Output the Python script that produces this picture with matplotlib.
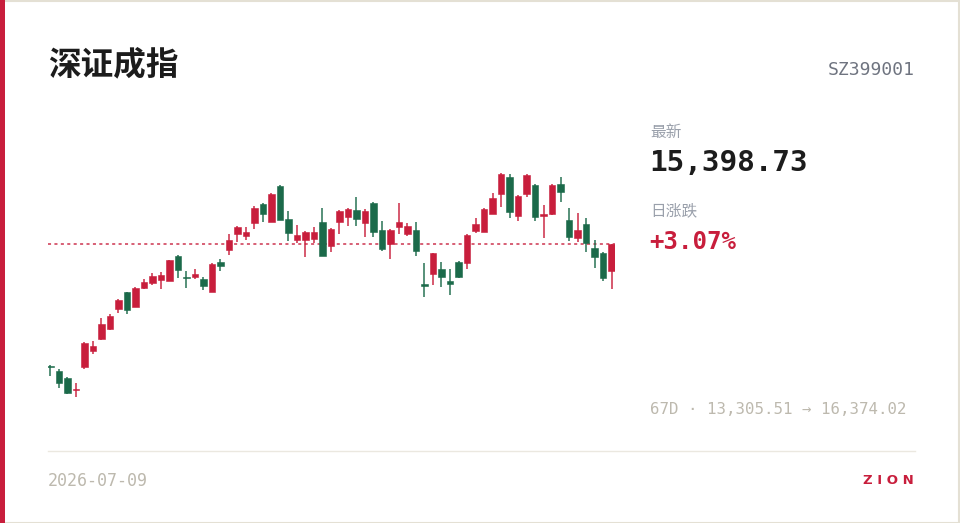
import matplotlib
matplotlib.use("Agg")
import matplotlib.pyplot as plt
from matplotlib.patches import Rectangle

# 深证成指 日K (67 天)
opens = [13731, 13658, 13562, 13393, 13718, 13933, 14094, 14231, 14514, 14739,
         14542, 14799, 14863, 14908, 14895, 15238, 14950, 14954, 14926, 14744,
         15160, 15320, 15536, 15517, 15691, 15952, 15705, 16204, 15746, 15458,
         15462, 15476, 15709, 15375, 15705, 15778, 15870, 15687, 15966, 15599,
         15407, 15640, 15536, 15595, 14849, 14995, 15060, 14891, 15160, 15146,
         15581, 15568, 15819, 16090, 16327, 15783, 16090, 16213, 15783, 15811,
         16227, 15732, 15481, 15678, 15344, 15275, 15036]
highs = [13741, 13686, 13572, 13490, 14053, 14066, 14382, 14446, 14642, 14748,
         14808, 14918, 15000, 15014, 15187, 15248, 15032, 15055, 14945, 15138,
         15193, 15536, 15650, 15636, 15929, 15962, 16103, 16217, 15860, 15660,
         15581, 15632, 15901, 15623, 15870, 15901, 16044, 15884, 15980, 15719,
         15609, 15962, 15687, 15709, 15138, 15280, 15152, 15060, 15174, 15536,
         15764, 15893, 16107, 16374.02, 16360, 16076, 16360, 16223, 15938, 16227,
         16327, 15893, 15825, 15756, 15458, 15289, 15405]
lows = [13594, 13421, 13343, 13305.51, 13690, 13892, 14088, 14225, 14459, 14441,
        14533, 14781, 14844, 14781, 14890, 14932, 14794, 14918, 14771, 14740,
        15036, 15248, 15434, 15458, 15613, 15705, 15700, 15732, 15440, 15413,
        15220, 15421, 15234, 15297, 15540, 15654, 15654, 15495, 15495, 15307,
        15201, 15540, 15513, 15238, 14675, 14840, 14816, 14702, 14940, 15055,
        15550, 15564, 15815, 15907, 15756, 15719, 16052, 15719, 15489, 15806,
        15984, 15444, 15434, 15289, 15077, 14895, 14785]
closes = [13713, 13490, 13352, 13411, 14043, 13998, 14308, 14410, 14638, 14496,
          14794, 14885, 14967, 14977, 15179, 15046, 14936, 14995, 14826, 15124,
          15105, 15454, 15636, 15568, 15897, 15819, 16090, 15737, 15558, 15531,
          15568, 15568, 15238, 15609, 15856, 15880, 15742, 15856, 15572, 15334,
          15595, 15705, 15654, 15311, 14822, 15275, 14945, 14849, 14950, 15531,
          15678, 15880, 16035, 16370, 15847, 16058, 16351, 15778, 15811, 16213,
          16113, 15503, 15595, 15413, 15228, 14940.02, 15398.73]

name = "深证成指"
code = "SZ399001"
last_price = "15,398.73"
day_change = "+3.07%"
date_str = "2026-07-09"

UP = "#c81e3c"      # 红涨
DOWN = "#1b6a4a"    # 绿跌
MONO = "DejaVu Sans Mono"
CJK = ["Noto Sans CJK SC", "DejaVu Sans"]

W, H = 960, 523
fig = plt.figure(figsize=(W / 100, H / 100), dpi=100)
fig.patch.set_facecolor("white")

# 卡片边框 + 左侧红条
fig.add_artist(Rectangle((0.5 / W, 0.5 / H), (W - 1.5) / W, (H - 1.5) / H, transform=fig.transFigure,
                         facecolor="white", edgecolor="#e4e0d4", linewidth=1.5, zorder=0))
fig.add_artist(Rectangle((0, 0), 5 / W, 1, transform=fig.transFigure, facecolor=UP, edgecolor="none", zorder=1))

# K线区域
ax = fig.add_axes([48 / W, (H - 420) / H, 567 / W, 270 / H])
ax.set_axis_off()
n = len(closes)
lo, hi = min(lows), max(highs)
pad = (hi - lo) * 0.1043
ax.set_xlim(-0.29, n - 1 + 0.41)
ax.set_ylim(lo - pad, hi + pad)
min_body = (hi - lo) / 223 * 1.4

xs = list(range(n))
cols = [UP if c >= o else DOWN for o, c in zip(opens, closes)]
ax.vlines(xs, lows, highs, colors=cols, linewidth=1.3, alpha=0.8, zorder=2)
bottoms = [min(o, c) for o, c in zip(opens, closes)]
heights = [max(abs(c - o), min_body) for o, c in zip(opens, closes)]
ax.bar(xs, heights, bottom=bottoms, width=0.72, color=cols, edgecolor=cols, linewidth=0.4, zorder=3)

# 最新价虚线
ax.axhline(closes[-1], color=UP, linewidth=1.1, linestyle=(0, (2, 2.2)), alpha=0.9, zorder=1)


def fy(py):
    return 1 - py / H


# 文字
fig.text(48 / W, fy(65), name, fontsize=23.5, fontweight="bold", family=CJK, color="#1c1c1c", va="center")
fig.text(915 / W, fy(70), code, fontsize=13, family=MONO, color="#6f7480", va="center", ha="right")
fig.text(650 / W, fy(133), "最新", fontsize=11.3, family=CJK, color="#9aa0ab", va="center")
fig.text(649 / W, fy(163), last_price, fontsize=21.2, fontweight="bold", family=MONO, color="#1c1c1c", va="center")
fig.text(650 / W, fy(211), "日涨跌", fontsize=11.3, family=CJK, color="#9aa0ab", va="center")
fig.text(649 / W, fy(242), day_change, fontsize=17.3, fontweight="bold", family=MONO, color=UP, va="center")
rng = f"{n}D · {lo:,.2f} → {hi:,.2f}"
fig.text(650 / W, fy(410), rng, fontsize=11.3, family=MONO, color="#bdb9ae", va="center")

# 底部分隔线与页脚
fig.add_artist(plt.Line2D([48 / W, 915 / W], [fy(451), fy(451)], transform=fig.transFigure,
                          color="#ebe8e0", linewidth=1))
fig.text(48 / W, fy(481), date_str, fontsize=12, family=MONO, color="#bdb9ae", va="center")
fig.text(914 / W, fy(481), "Z I O N", fontsize=9.5, fontweight="bold", family="DejaVu Sans", color=UP,
         va="center", ha="right")

fig.savefig("out.png", dpi=100, facecolor="white")
